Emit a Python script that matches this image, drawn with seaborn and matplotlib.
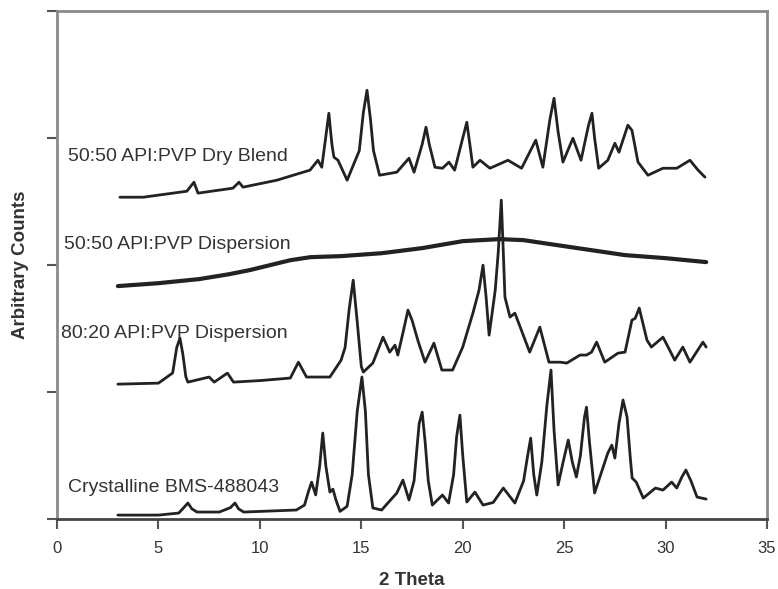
import pandas as pd
import seaborn as sns
import matplotlib.pyplot as plt

# 2 Theta / counts values
cryst_x = [3.0, 5.0, 6.0, 6.25, 6.45, 6.65, 6.9, 8.0, 8.55, 8.77, 8.95, 9.2, 11.8, 12.2, 12.4,
           12.55, 12.75, 12.95, 13.1, 13.25, 13.45, 13.6, 13.75, 13.95, 14.3, 14.55, 14.8, 15.03,
           15.2, 15.35, 15.57, 16.0, 16.75, 17.05, 17.35, 17.6, 17.85, 18.0, 18.15, 18.3, 18.5,
           19.0, 19.3, 19.55, 19.7, 19.86, 20.0, 20.2, 20.6, 21.0, 21.5, 22.0, 22.57, 23.0, 23.2,
           23.35, 23.5, 23.65, 23.9, 24.15, 24.35, 24.5, 24.7, 24.95, 25.2, 25.4, 25.6, 25.8, 26.0,
           26.1, 26.25, 26.5, 27.15, 27.35, 27.5, 27.7, 27.9, 28.1, 28.25, 28.35, 28.55, 28.9, 29.5,
           29.87, 30.3, 30.55, 30.8, 31.0, 31.25, 31.55, 32.0]
cryst_y = [31, 31, 47, 90, 126, 80, 55, 55, 90, 126, 80, 55, 71, 110, 220,
           290, 190, 420, 677, 420, 212, 235, 150, 60, 100, 350, 850, 1118,
           850, 350, 87, 71, 205, 307, 150, 300, 750, 842, 600, 300, 110,
           189, 126, 350, 650, 818, 500, 134, 212, 110, 130, 244, 126, 300, 500,
           637, 350, 189, 450, 900, 1173, 700, 268, 450, 622, 450, 331, 500, 800,
           881, 600, 205, 519, 582, 480, 750, 937, 803, 500, 323, 291, 165, 244,
           228, 291, 244, 330, 386, 300, 173, 157]

disp8020_x = [3.0, 5.0, 5.7, 5.9, 6.06, 6.2, 6.35, 6.45, 7.5, 7.75, 8.4, 8.7, 10.0, 11.5, 11.9,
              12.3, 13.45, 14.0, 14.2, 14.4, 14.6, 14.8, 15.0, 15.1, 15.57, 16.07, 16.4, 16.66,
              16.8, 17.1, 17.3, 17.5, 17.8, 18.14, 18.58, 18.97, 19.5, 20.0, 20.5, 20.8, 21.0,
              21.15, 21.3, 21.6, 21.75, 21.9, 22.0, 22.08, 22.33, 22.57, 22.67, 23.3, 23.8, 24.25,
              24.8, 25.13, 25.78, 26.1, 26.35, 26.6, 27.0, 27.65, 28.0, 28.34, 28.5, 28.7, 29.08,
              29.3, 29.87, 30.2, 30.45, 30.85, 31.2, 31.84, 32.0]
disp8020_y = [1062, 1070, 1150, 1350, 1424, 1300, 1120, 1078, 1118, 1078, 1149, 1078, 1090, 1110, 1235,
              1118, 1118, 1250, 1350, 1650, 1881, 1550, 1200, 1157, 1228, 1432, 1314, 1369,
              1291, 1500, 1645, 1566, 1400, 1235, 1385, 1173, 1173, 1354, 1621, 1800, 1999,
              1750, 1448, 1800, 2100, 2511, 2100, 1747, 1590, 1621, 1580, 1314, 1511, 1235,
              1235, 1228, 1291, 1291, 1314, 1393, 1235, 1306, 1314, 1566, 1580, 1661, 1409,
              1354, 1432, 1330, 1251, 1354, 1235, 1393, 1354]

disp5050_x = [3, 5, 7, 8.5, 9.5, 10.5, 11.5, 12.5, 14, 16, 18, 20, 21.8, 23, 24, 26, 28, 30, 32]
disp5050_y = [1834, 1857, 1889, 1928, 1960, 1999, 2038, 2062, 2070, 2093, 2133, 2188, 2204, 2196,
              2172, 2125, 2078, 2054, 2023]

blend_x = [3.1, 4.25, 6.4, 6.75, 6.95, 8.67, 8.97, 9.17, 10.84, 12.47, 12.86, 13.05, 13.2, 13.4,
           13.55, 13.65, 13.85, 14.3, 14.9, 15.1, 15.28, 15.45, 15.6, 15.9, 16.75, 17.35, 17.6,
           18.0, 18.19, 18.35, 18.63, 19.0, 19.32, 19.6, 20.0, 20.2, 20.35, 20.5, 20.85, 21.34,
           22.23, 22.9, 23.6, 23.95, 24.3, 24.5, 24.7, 24.94, 25.43, 25.83, 26.2, 26.37, 26.5,
           26.7, 27.15, 27.5, 27.7, 28.14, 28.34, 28.64, 29.13, 29.87, 30.55, 31.2, 31.6, 31.94]
blend_y = [2534, 2534, 2581, 2652, 2566, 2605, 2652, 2613, 2668, 2747, 2825, 2770, 2950, 3195,
           2950, 2849, 2825, 2668, 2900, 3200, 3376, 3150, 2900, 2707, 2731, 2841, 2731,
           2950, 3085, 2950, 2770, 2762, 2810, 2747, 3000, 3124, 2950, 2770, 2825, 2762,
           2825, 2762, 2983, 2770, 3150, 3313, 3050, 2810, 2998, 2825, 3100, 3195, 3000,
           2762, 2825, 2959, 2888, 3101, 3061, 2810, 2707, 2762, 2762, 2825, 2747, 2692]

labels = ["Crystalline BMS-488043", "80:20 API:PVP Dispersion",
          "50:50 API:PVP Dispersion", "50:50 API:PVP Dry Blend"]
label_x = [0.55, 0.2, 0.35, 0.55]
label_y = [252, 1464, 2164, 2857]

# long-form table for seaborn
df = pd.concat([
    pd.DataFrame({"two_theta": cryst_x, "counts": cryst_y, "sample": labels[0]}),
    pd.DataFrame({"two_theta": disp8020_x, "counts": disp8020_y, "sample": labels[1]}),
    pd.DataFrame({"two_theta": disp5050_x, "counts": disp5050_y, "sample": labels[2]}),
    pd.DataFrame({"two_theta": blend_x, "counts": blend_y, "sample": labels[3]}),
])

sns.set_theme(style="white")
plt.rcParams['font.family'] = ['Liberation Sans', 'DejaVu Sans']

fig = plt.figure(figsize=(7.78, 5.89), dpi=100)
ax = fig.add_axes([0.0733, 0.1188, 0.9126, 0.8625])

# the amorphous trace is noisy in the original, so it reads thicker
widths = {labels[0]: 2.0, labels[1]: 2.0, labels[2]: 3.0, labels[3]: 2.0}
sns.lineplot(data=df, x="two_theta", y="counts", hue="sample", size="sample",
             palette=["#222222"] * 4, sizes=widths, estimator=None, sort=False,
             legend=False, ax=ax)

for lab, lx, ly in zip(labels, label_x, label_y):
    ax.text(lx, ly, lab, fontsize=14, color="#333333", va="center", ha="left")

ax.set_xlim(0, 35)
ax.set_ylim(0, 4000)
ax.set_xticks(range(0, 36, 5))
ax.set_yticks(range(0, 4001, 1000))
ax.set_yticklabels([])
ax.tick_params(axis="both", direction="out", length=7, width=1.5, color="#555555",
               labelsize=12, labelcolor="#333333", bottom=True, left=True, pad=9)
for side in ["top", "right", "left"]:
    ax.spines[side].set_color("#8a8a8a")
    ax.spines[side].set_linewidth(2)
ax.spines["bottom"].set_color("#444444")
ax.spines["bottom"].set_linewidth(2)

ax.set_xlabel("2 Theta", fontsize=13.5, fontweight="bold", color="#333333", labelpad=11)
ax.set_ylabel("Arbitrary Counts", fontsize=13.5, fontweight="bold", color="#333333", labelpad=4)

fig.savefig("out.png", dpi=100)
